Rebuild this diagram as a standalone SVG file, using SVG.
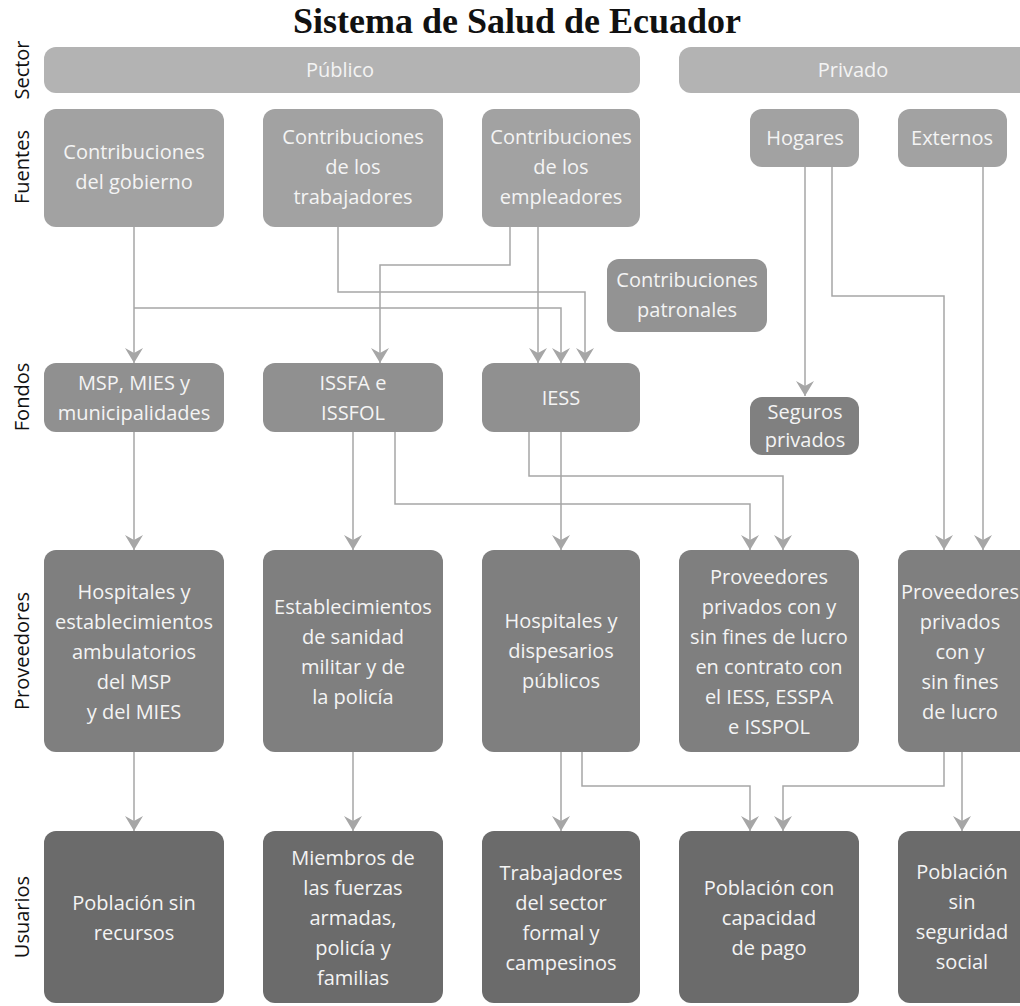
<svg xmlns="http://www.w3.org/2000/svg" width="1020" height="1006" viewBox="0 0 1020 1006">
<defs>
<marker id="ah" markerUnits="userSpaceOnUse" markerWidth="16" markerHeight="18" viewBox="0 0 16 18" refX="15" refY="9" orient="auto">
<path d="M0,0 L15,9 L0,18 L5,9 Z" fill="#a6a6a6"/>
</marker>
<style>
.t{font-family:"Open Sans","Noto Sans",sans-serif;font-size:20px;fill:#f4f4f4;text-anchor:middle}
.lbl{font-family:"Open Sans","Noto Sans",sans-serif;font-size:20px;fill:#111;text-anchor:middle}
.title{font-family:"Liberation Serif","DejaVu Serif",serif;font-weight:bold;font-size:36px;fill:#111;text-anchor:middle}
.sec{fill:#b3b3b3}
.src{fill:#a2a2a2}
.pat{fill:#939393}
.fon{fill:#909090}
.seg{fill:#808080}
.pro{fill:#7f7f7f}
.usu{fill:#6b6b6b}
.c path{fill:none;stroke:#a6a6a6;stroke-width:1.5;marker-end:url(#ah)}
</style>
</defs>
<rect width="1020" height="1006" fill="#ffffff"/>
<text class="title" x="517" y="33">Sistema de Salud de Ecuador</text>

<g id="row-labels">
<text class="lbl" transform="translate(29,70) rotate(-90)">Sector</text>
<text class="lbl" transform="translate(29,167) rotate(-90)">Fuentes</text>
<text class="lbl" transform="translate(29,397) rotate(-90)">Fondos</text>
<text class="lbl" transform="translate(29,651) rotate(-90)">Proveedores</text>
<text class="lbl" transform="translate(29,917) rotate(-90)">Usuarios</text>
</g>

<g id="connectors" class="c">
<path d="M134,227 V363"/>
<path d="M134,308 H561 V363"/>
<path d="M338,227 V292 H585 V363"/>
<path d="M510,227 V265 H380 V363"/>
<path d="M538,227 V363"/>
<path d="M805,167 V396"/>
<path d="M832,167 V296 H944 V550"/>
<path d="M983,167 V550"/>
<path d="M134,432 V550"/>
<path d="M353,432 V550"/>
<path d="M395,432 V504 H750 V550"/>
<path d="M529,432 V476 H783 V550"/>
<path d="M561,432 V550"/>
<path d="M134,752 V831"/>
<path d="M353,752 V831"/>
<path d="M561,752 V831"/>
<path d="M582,752 V786 H750 V831"/>
<path d="M944,752 V786 H783 V831"/>
<path d="M962,752 V831"/>
</g>

<g id="publico"><rect class="sec" x="44" y="47" width="596" height="46" rx="12"/><text class="t" x="340" y="77">Público</text></g>
<g id="privado"><rect class="sec" x="679" y="47" width="360" height="46" rx="12"/><text class="t" x="853" y="77">Privado</text></g>

<g id="contrib-gobierno"><rect class="src" x="44" y="109" width="180" height="118" rx="12"/><text class="t" x="134" y="159">Contribuciones</text><text class="t" x="134" y="189">del gobierno</text></g>
<g id="contrib-trabajadores"><rect class="src" x="263" y="109" width="180" height="118" rx="12"/><text class="t" x="353" y="144">Contribuciones</text><text class="t" x="353" y="174">de los</text><text class="t" x="353" y="204">trabajadores</text></g>
<g id="contrib-empleadores"><rect class="src" x="482" y="109" width="158" height="118" rx="12"/><text class="t" x="561" y="144">Contribuciones</text><text class="t" x="561" y="174">de los</text><text class="t" x="561" y="204">empleadores</text></g>
<g id="hogares"><rect class="src" x="750" y="109" width="109" height="58" rx="12"/><text class="t" x="805" y="145">Hogares</text></g>
<g id="externos"><rect class="src" x="898" y="109" width="109" height="58" rx="12"/><text class="t" x="952" y="145">Externos</text></g>

<g id="contrib-patronales"><rect class="pat" x="607" y="259" width="160" height="73" rx="12"/><text class="t" x="687" y="287">Contribuciones</text><text class="t" x="687" y="317">patronales</text></g>

<g id="msp-mies"><rect class="fon" x="44" y="363" width="180" height="69" rx="12"/><text class="t" x="134" y="390">MSP, MIES y</text><text class="t" x="134" y="420">municipalidades</text></g>
<g id="issfa"><rect class="fon" x="263" y="363" width="180" height="69" rx="12"/><text class="t" x="353" y="390">ISSFA e</text><text class="t" x="353" y="420">ISSFOL</text></g>
<g id="iess"><rect class="fon" x="482" y="363" width="158" height="69" rx="12"/><text class="t" x="561" y="405">IESS</text></g>
<g id="seguros"><rect class="seg" x="750" y="397" width="109" height="58" rx="12"/><text class="t" x="805" y="419">Seguros</text><text class="t" x="805" y="447">privados</text></g>

<g id="prov-msp"><rect class="pro" x="44" y="550" width="180" height="202" rx="12"/><text class="t" x="134" y="599">Hospitales y</text><text class="t" x="134" y="629">establecimientos</text><text class="t" x="134" y="659">ambulatorios</text><text class="t" x="134" y="689">del MSP</text><text class="t" x="134" y="719">y del MIES</text></g>
<g id="prov-militar"><rect class="pro" x="263" y="550" width="180" height="202" rx="12"/><text class="t" x="353" y="614">Establecimientos</text><text class="t" x="353" y="644">de sanidad</text><text class="t" x="353" y="674">militar y de</text><text class="t" x="353" y="704">la policía</text></g>
<g id="prov-publicos"><rect class="pro" x="482" y="550" width="158" height="202" rx="12"/><text class="t" x="561" y="628">Hospitales y</text><text class="t" x="561" y="658">dispesarios</text><text class="t" x="561" y="688">públicos</text></g>
<g id="prov-contrato"><rect class="pro" x="679" y="550" width="180" height="202" rx="12"/><text class="t" x="769" y="584">Proveedores</text><text class="t" x="769" y="614">privados con y</text><text class="t" x="769" y="644">sin fines de lucro</text><text class="t" x="769" y="674">en contrato con</text><text class="t" x="769" y="704">el IESS, ESSPA</text><text class="t" x="769" y="734">e ISSPOL</text></g>
<g id="prov-privados"><rect class="pro" x="898" y="550" width="140" height="202" rx="12"/><text class="t" x="960" y="599">Proveedores</text><text class="t" x="960" y="629">privados</text><text class="t" x="960" y="659">con y</text><text class="t" x="960" y="689">sin fines</text><text class="t" x="960" y="719">de lucro</text></g>

<g id="us-sin-recursos"><rect class="usu" x="44" y="831" width="180" height="172" rx="12"/><text class="t" x="134" y="910">Población sin</text><text class="t" x="134" y="940">recursos</text></g>
<g id="us-fuerzas"><rect class="usu" x="263" y="831" width="180" height="172" rx="12"/><text class="t" x="353" y="865">Miembros de</text><text class="t" x="353" y="895">las fuerzas</text><text class="t" x="353" y="925">armadas,</text><text class="t" x="353" y="955">policía y</text><text class="t" x="353" y="985">familias</text></g>
<g id="us-trabajadores"><rect class="usu" x="482" y="831" width="158" height="172" rx="12"/><text class="t" x="561" y="880">Trabajadores</text><text class="t" x="561" y="910">del sector</text><text class="t" x="561" y="940">formal y</text><text class="t" x="561" y="970">campesinos</text></g>
<g id="us-capacidad"><rect class="usu" x="679" y="831" width="180" height="172" rx="12"/><text class="t" x="769" y="895">Población con</text><text class="t" x="769" y="925">capacidad</text><text class="t" x="769" y="955">de pago</text></g>
<g id="us-sin-seguridad"><rect class="usu" x="898" y="831" width="140" height="172" rx="12"/><text class="t" x="962" y="879">Población</text><text class="t" x="962" y="909">sin</text><text class="t" x="962" y="939">seguridad</text><text class="t" x="962" y="969">social</text></g>
</svg>
